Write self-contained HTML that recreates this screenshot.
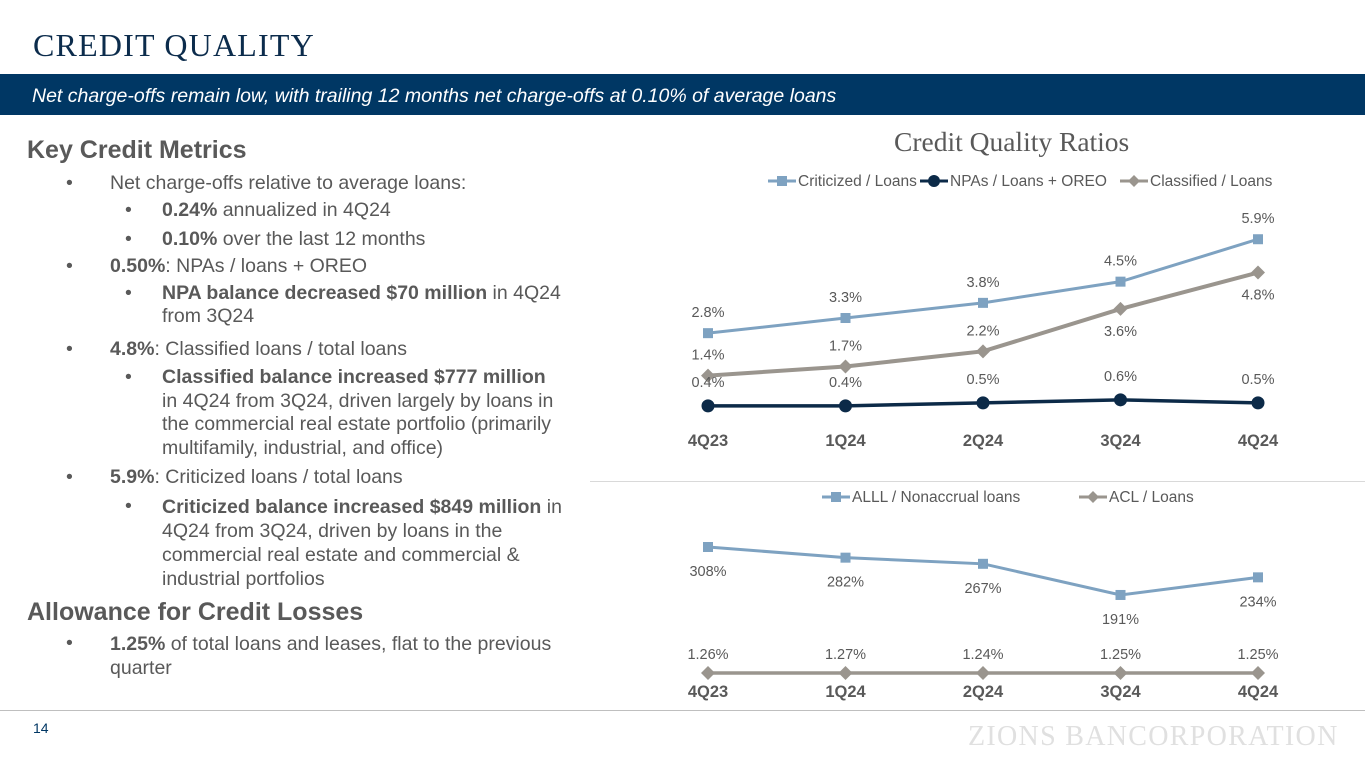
<!DOCTYPE html>
<html><head><meta charset="utf-8"><style>
*{margin:0;padding:0;box-sizing:border-box}
body{width:1365px;height:768px;background:#fff;position:relative;overflow:hidden;font-family:"Liberation Sans",sans-serif;color:#595959}
.abs{position:absolute;white-space:nowrap}
.t{font-size:19.5px}
b{color:#595959}
</style></head><body>
<div class="abs" style="left:33px;top:27px;font-family:'Liberation Serif',serif;font-size:32px;color:#0c2c4c;letter-spacing:1.2px">CREDIT QUALITY</div>
<div class="abs" style="left:0;top:74px;width:1365px;height:41px;background:#003764"></div>
<div class="abs" style="left:32px;top:85px;font-size:19.5px;font-style:italic;color:#fff">Net charge-offs remain low, with trailing 12 months net charge-offs at 0.10% of average loans</div>

<div>
<div class="abs" style="left:27px;top:136px;font-size:25px;font-weight:bold">Key Credit Metrics</div>
<div class="abs t" style="left:66px;top:172px">•</div><div class="abs t" style="left:110px;top:172px">Net charge-offs relative to average loans:</div>
<div class="abs t" style="left:125px;top:199px">•</div><div class="abs t" style="left:162px;top:199px"><b>0.24%</b> annualized in 4Q24</div>
<div class="abs t" style="left:125px;top:228px">•</div><div class="abs t" style="left:162px;top:228px"><b>0.10%</b> over the last 12 months</div>
<div class="abs t" style="left:66px;top:255px">•</div><div class="abs t" style="left:110px;top:255px"><b>0.50%</b>: NPAs / loans + OREO</div>
<div class="abs t" style="left:125px;top:282px">•</div><div class="abs t" style="left:162px;top:282px;line-height:23px"><b>NPA balance decreased $70 million</b> in 4Q24<br>from 3Q24</div>
<div class="abs t" style="left:66px;top:338px">•</div><div class="abs t" style="left:110px;top:338px"><b>4.8%</b>: Classified loans / total loans</div>
<div class="abs t" style="left:125px;top:366px">•</div><div class="abs t" style="left:162px;top:366px;line-height:23.5px"><b>Classified balance increased $777 million</b><br>in 4Q24 from 3Q24, driven largely by loans in<br>the commercial real estate portfolio (primarily<br>multifamily, industrial, and office)</div>
<div class="abs t" style="left:66px;top:466px">•</div><div class="abs t" style="left:110px;top:466px"><b>5.9%</b>: Criticized loans / total loans</div>
<div class="abs t" style="left:125px;top:495px">•</div><div class="abs t" style="left:162px;top:495px;line-height:24px"><b>Criticized balance increased $849 million</b> in<br>4Q24 from 3Q24, driven by loans in the<br>commercial real estate and commercial &amp;<br>industrial portfolios</div>
<div class="abs" style="left:27px;top:598px;font-size:25px;font-weight:bold">Allowance for Credit Losses</div>
<div class="abs t" style="left:66px;top:632px">•</div><div class="abs t" style="left:110px;top:632px;line-height:24px"><b>1.25%</b> of total loans and leases, flat to the previous<br>quarter</div>
</div>

<div class="abs" style="left:894px;top:126px;font-family:'Liberation Serif',serif;font-size:27.5px;color:#595959">Credit Quality Ratios</div>
<div class="abs" style="left:590px;top:481px;width:775px;height:1px;background:#d9d9d9"></div>
<div class="abs" style="left:0;top:710px;width:1365px;height:1px;background:#bfbfbf"></div>
<div class="abs" style="left:33px;top:720px;font-size:14px;color:#003764">14</div>
<div class="abs" style="left:968px;top:721px;font-family:'Liberation Serif',serif;font-size:28px;color:#e0e0e0;letter-spacing:1.3px">ZIONS BANCORPORATION</div>

<svg id="chart" class="abs" style="left:0;top:0" width="1365" height="768"></svg>
<script>
const categories=["4Q23","1Q24","2Q24","3Q24","4Q24"];
const criticized=[2.8,3.3,3.8,4.5,5.9];
const npas=[0.4,0.4,0.5,0.6,0.5];
const classified=[1.4,1.7,2.2,3.6,4.8];
const alll=[308,282,267,191,234];
const acl=[1.26,1.27,1.24,1.25,1.25];
const svg=document.getElementById('chart');
const NS='http://www.w3.org/2000/svg';
const x=i=>708+i*137.5;
const y1=v=>418-v*30.3;
const y2=v=>547+(308-v)*0.41;
const y3=v=>673;
function mk(t,a){const e=document.createElementNS(NS,t);for(const k in a)e.setAttribute(k,a[k]);svg.appendChild(e);return e;}
function txt(s,xx,yy,opt){const e=mk('text',Object.assign({x:xx,y:yy,'text-anchor':'middle','font-size':14.5,fill:'#595959','font-family':'Liberation Sans, sans-serif'},opt||{}));e.textContent=s;return e;}
function marker(type,cx,cy,col,r){
 if(type==='sq')return mk('rect',{x:cx-r,y:cy-r,width:2*r,height:2*r,fill:col});
 if(type==='ci')return mk('circle',{cx:cx,cy:cy,r:r,fill:col});
 return mk('polygon',{points:`${cx},${cy-r} ${cx+r},${cy} ${cx},${cy+r} ${cx-r},${cy}`,fill:col});
}
function series(name,vals,yf,col,type,r,w,labelFn){
 const pts=vals.map((v,i)=>x(i)+','+yf(v)).join(' ');
 const l=mk('polyline',{points:pts,fill:'none',stroke:col,'stroke-width':w});
 
 
 vals.forEach((v,i)=>{const m=marker(type,x(i),yf(v),col,r);
  
  
  const lb=labelFn(v,i);
  const t=txt(lb.s,x(i),lb.y);
  
  });
}
series('criticized',criticized,y1,'#7ea2c1','sq',5,3,(v,i)=>({s:v.toFixed(1)+'%',y:y1(v)-16}));
series('classified',classified,y1,'#9a958e','di',7,4,(v,i)=>({s:v.toFixed(1)+'%',y:(i<3?y1(v)-16:y1(v)+27)}));
series('npas',npas,y1,'#0c2a48','ci',6.5,3.5,(v,i)=>({s:v.toFixed(1)+'%',y:y1(v)-19}));
series('alll',alll,y2,'#7ea2c1','sq',5,3,(v,i)=>({s:v+'%',y:y2(v)+29}));
series('acl',acl,y3,'#9a958e','di',7,3.5,(v,i)=>({s:v.toFixed(2)+'%',y:y3(v)-14}));
categories.forEach((c,i)=>{
 const a=txt(c,x(i),446,{'font-weight':'bold','font-size':16.5});
 
 
 const b=txt(c,x(i),697,{'font-weight':'bold','font-size':16.5});
 
 
});
function legend(lx,ly,label,col,type,r){
 const g=mk('line',{x1:lx,y1:ly,x2:lx+28,y2:ly,stroke:col,'stroke-width':3});
 
 
 marker(type,lx+14,ly,col,r);
 const t=txt(label,lx+30,ly+5,{'text-anchor':'start','font-size':15.5});
 
 
}
legend(768,181,'Criticized / Loans','#7ea2c1','sq',5);
legend(920,181,'NPAs / Loans + OREO','#0c2a48','ci',6);
legend(1120,181,'Classified / Loans','#9a958e','di',6);
legend(822,497,'ALLL / Nonaccrual loans','#7ea2c1','sq',5);
legend(1079,497,'ACL / Loans','#9a958e','di',6);
</script>
</body></html>
